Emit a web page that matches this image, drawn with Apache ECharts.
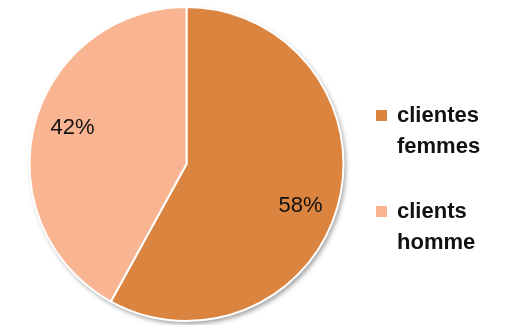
<!DOCTYPE html>
<html><head><meta charset="utf-8">
<script src="https://cdn.jsdelivr.net/npm/echarts@6/dist/echarts.min.js"></script>
<style>html,body{margin:0;padding:0;background:#fff}#c{width:508px;height:325px}</style>
</head><body><div id="c"></div>
<script>
const categories = ['clientes\nfemmes', 'clients\nhomme'];
const values = [58, 42];
const colors = ['#DA843F', '#F9B591'];
const labelOffsets = [[35, 22], [-35, -16]];

const chart = echarts.init(document.getElementById('c'), null, {renderer: 'canvas'});
chart.setOption({
  animation: false,
  backgroundColor: '#fff',
  legend: {
    orient: 'vertical',
    left: 376, top: 69,
    padding: 0,
    itemWidth: 11, itemHeight: 11, itemGap: 3,
    icon: 'rect',
    itemStyle: {borderWidth: 0},
    data: categories,
    formatter: function (n) { return '\n' + n; },
    textStyle: {fontFamily: 'Liberation Sans', fontWeight: 'bold', fontSize: 22, color: '#111', lineHeight: 31, padding: [0, 0, 0, 5]}
  },
  series: [
    {
      type: 'pie', silent: true, center: [186.5, 164], radius: 157, z: 1,
      startAngle: 90, label: {show: false}, labelLine: {show: false},
      itemStyle: {color: '#fff', shadowColor: 'rgba(0,0,0,0.4)', shadowBlur: 5, shadowOffsetX: 2, shadowOffsetY: 3},
      data: [{value: 1, name: '_bg'}]
    },
    {
      type: 'pie', center: [186.5, 164], radius: 157, z: 2,
      startAngle: 90, clockwise: true,
      itemStyle: {borderColor: '#fff', borderWidth: 2},
      label: {show: true, position: 'inside', formatter: '{c}%', fontFamily: 'Liberation Sans', fontSize: 22, color: '#111'},
      labelLine: {show: false},
      labelLayout: function (p) { return {dx: labelOffsets[p.dataIndex][0], dy: labelOffsets[p.dataIndex][1]}; },
      data: categories.map((n, i) => ({name: n, value: values[i], itemStyle: {color: colors[i]}}))
    }
  ]
});
</script></body></html>
